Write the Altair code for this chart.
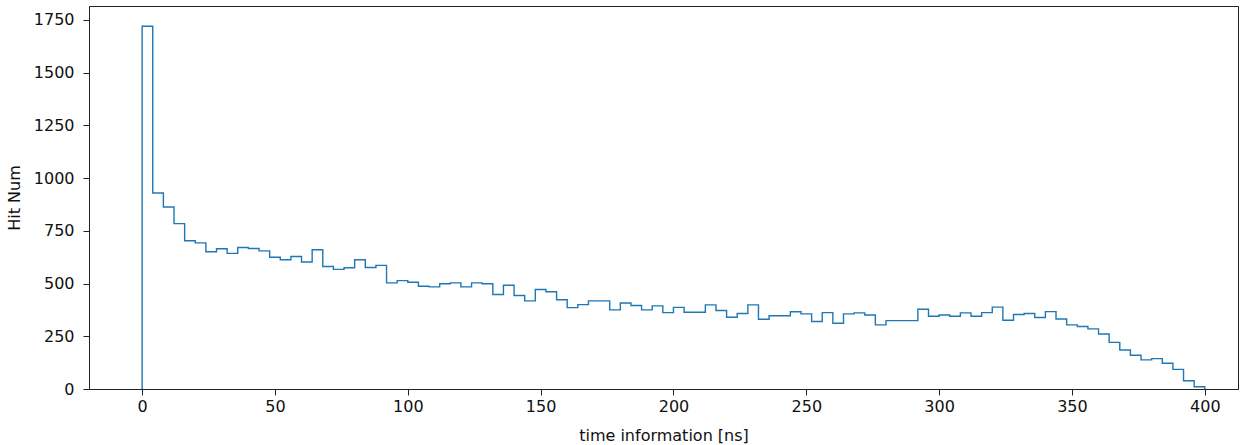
import altair as alt
import pandas as pd

bin_width = 4
bin_starts = [i * bin_width for i in range(100)]
hit_counts = [
    1720, 929, 863, 784, 703, 693, 651, 665, 643, 671,
    666, 655, 625, 613, 628, 602, 660, 581, 567, 575,
    613, 576, 586, 503, 514, 506, 487, 484, 499, 503,
    484, 503, 499, 448, 492, 443, 418, 472, 461, 423,
    386, 400, 418, 418, 375, 408, 396, 375, 394, 362,
    387, 364, 364, 399, 372, 340, 358, 399, 331, 347,
    347, 366, 356, 320, 362, 312, 356, 361, 351, 304,
    324, 324, 324, 378, 345, 351, 345, 361, 345, 362,
    388, 326, 353, 358, 339, 367, 332, 304, 296, 285,
    261, 221, 185, 160, 138, 144, 122, 93, 39, 11,
]

# step outline (matplotlib histtype='step'): start at 0, walk each bin, drop at the end
xs = [bin_starts[0]] + bin_starts + [bin_starts[-1] + bin_width, bin_starts[-1] + bin_width]
ys = [0] + hit_counts + [hit_counts[-1], 0]
df = pd.DataFrame({"x": xs, "y": ys, "i": list(range(len(xs)))})

font = "DejaVu Sans"

chart = (
    alt.Chart(df)
    .mark_line(interpolate="step-after", color="#1f77b4", strokeWidth=1.4, clip=True)
    .encode(
        x=alt.X(
            "x:Q",
            scale=alt.Scale(domain=[-20, 412.5], nice=False, zero=False),
            axis=alt.Axis(
                title="time information [ns]",
                values=[0, 50, 100, 150, 200, 250, 300, 350, 400],
                format="d",
                grid=False,
                tickSize=6,
                labelPadding=3,
                titlePadding=13,
            ),
        ),
        y=alt.Y(
            "y:Q",
            scale=alt.Scale(domain=[0, 1816], nice=False),
            axis=alt.Axis(
                title="Hit Num",
                values=[0, 250, 500, 750, 1000, 1250, 1500, 1750],
                format="d",
                grid=False,
                tickSize=6,
                labelPadding=9,
                titlePadding=11,
            ),
        ),
        order=alt.Order("i:Q"),
    )
    .properties(
        width=1149,
        height=383,
        autosize=alt.AutoSizeParams(type="none"),
        padding={"left": 89, "top": 6, "right": 13, "bottom": 56},
        background="white",
    )
    .configure_view(stroke="#222222", strokeWidth=1)
    .configure_axis(
        labelFont=font,
        titleFont=font,
        labelFontSize=16,
        titleFontSize=16,
        titleFontWeight="normal",
        labelColor="#111111",
        titleColor="#111111",
        domainColor="#222222",
        tickColor="#222222",
        domainWidth=1,
        tickWidth=1,
    )
)

chart.save("out.html", embed_options={"renderer": "svg", "actions": False})
